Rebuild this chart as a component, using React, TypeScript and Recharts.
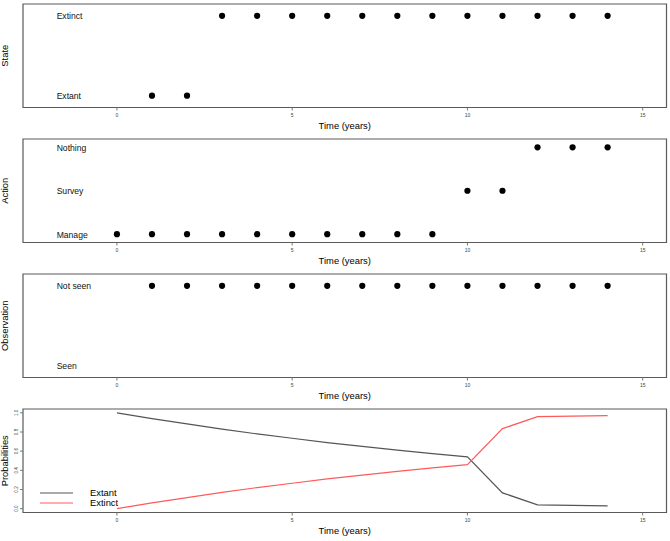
import React from "react";
import {
  ComposedChart,
  Scatter,
  Line,
  XAxis,
  YAxis,
  ReferenceArea,
} from "recharts";

// time axis (years)
const X_MIN = -2.68;
const X_MAX = 15.68;
const xTicks = [0, 5, 10, 15];

// State panel
const stateTimes = [1, 2, 3, 4, 5, 6, 7, 8, 9, 10, 11, 12, 13, 14];
const stateValues = [1, 1, 2, 2, 2, 2, 2, 2, 2, 2, 2, 2, 2, 2];
const stateLabels = ["Extant", "Extinct"];

// Action panel
const actionTimes = [0, 1, 2, 3, 4, 5, 6, 7, 8, 9, 10, 11, 12, 13, 14];
const actionValues = [1, 1, 1, 1, 1, 1, 1, 1, 1, 1, 2, 2, 3, 3, 3];
const actionLabels = ["Manage", "Survey", "Nothing"];

// Observation panel
const obsTimes = [1, 2, 3, 4, 5, 6, 7, 8, 9, 10, 11, 12, 13, 14];
const obsValues = [2, 2, 2, 2, 2, 2, 2, 2, 2, 2, 2, 2, 2, 2];
const obsLabels = ["Seen", "Not seen"];

// Probabilities panel
const probTimes = [0, 1, 2, 3, 4, 5, 6, 7, 8, 9, 10, 11, 12, 13, 14];
const extantProb = [1.0, 0.94, 0.885, 0.83, 0.78, 0.735, 0.69, 0.65, 0.61, 0.575, 0.54, 0.165, 0.04, 0.035, 0.03];
const extinctProb = [0.0, 0.06, 0.115, 0.17, 0.22, 0.265, 0.31, 0.35, 0.39, 0.425, 0.46, 0.835, 0.96, 0.965, 0.97];
const probTicks = [0, 0.2, 0.4, 0.6, 0.8, 1.0];
const probSeries = [
  { key: "extant", name: "Extant", color: "#555" },
  { key: "extinct", name: "Extinct", color: "#ff5a5a" },
];

const LABEL_X = -1.72;
const W = 670;
const H = 135;
const FONT = '"Liberation Sans", Arial, sans-serif';
const BOX = "#5a5a5a";

const dotShape = (p: any) => <circle cx={p.cx} cy={p.cy} r={3.1} fill="#000" />;

const labelShape = (p: any) => (
  <text x={p.cx} y={p.cy} dy="0.4em" fontSize={8.6} fill="#111" textAnchor="start">
    {p.payload?.name ?? p.name}
  </text>
);

const xAxisProps = {
  dataKey: "x",
  type: "number" as const,
  domain: [X_MIN, X_MAX],
  ticks: xTicks,
  interval: 0 as const,
  allowDataOverflow: true,
  height: 27.5,
  axisLine: false,
  tickLine: { stroke: "#777" },
  tickSize: 3,
  tickMargin: 3,
  tick: { fontSize: 5, fill: "#444" },
  label: {
    value: "Time (years)",
    position: "insideBottom" as const,
    offset: 6,
    fontSize: 9.4,
    fill: "#000",
  },
};

const yTitle = (t: string) => ({
  value: t,
  angle: -90,
  position: "insideLeft" as const,
  offset: 4.5,
  fontSize: 9.4,
  fill: "#000",
  style: { textAnchor: "middle" },
});

function CategoryPanel({
  times,
  values,
  labels,
  title,
  yDomain,
}: {
  times: number[];
  values: number[];
  labels: string[];
  title: string;
  yDomain: [number, number];
}) {
  const pts = times.map((t, i) => ({ x: t, y: values[i] }));
  const lbls = labels.map((name, i) => ({ x: LABEL_X, y: i + 1, name }));
  return (
    <ComposedChart width={W} height={H} margin={{ top: 4, right: 3.5, bottom: 0, left: 0 }}>
      <XAxis {...xAxisProps} />
      <YAxis
        dataKey="y"
        type="number"
        domain={yDomain}
        allowDataOverflow
        width={23}
        tick={false}
        axisLine={false}
        tickLine={false}
        label={yTitle(title)}
      />
      <ReferenceArea x1={X_MIN} x2={X_MAX} y1={yDomain[0]} y2={yDomain[1]} fill="none" stroke={BOX} strokeWidth={1.2} />
      <Scatter data={lbls} shape={labelShape} isAnimationActive={false} />
      <Scatter data={pts} shape={dotShape} isAnimationActive={false} />
    </ComposedChart>
  );
}

function ProbPanel() {
  const data = probTimes.map((t, i) => ({ x: t, extant: extantProb[i], extinct: extinctProb[i] }));
  const yDomain: [number, number] = [-0.04, 1.04];
  return (
    <div style={{ position: "relative", width: W, height: H }}>
      <ComposedChart width={W} height={H} data={data} margin={{ top: 4, right: 3.5, bottom: 0, left: 0 }}>
        <XAxis {...xAxisProps} />
        <YAxis
          type="number"
          domain={yDomain}
          ticks={probTicks}
          interval={0}
          allowDataOverflow
          width={23}
          axisLine={false}
          tickLine={{ stroke: "#777" }}
          tickSize={3}
          tickMargin={4}
          tick={(p: any) => (
            <text
              x={p.x}
              y={p.y}
              dy="0.35em"
              fontSize={4.6}
              fill="#444"
              textAnchor="middle"
              transform={`rotate(-90 ${p.x} ${p.y})`}
            >
              {Number(p.payload.value).toFixed(1)}
            </text>
          )}
          label={yTitle("Probabilities")}
        />
        <ReferenceArea x1={X_MIN} x2={X_MAX} y1={yDomain[0]} y2={yDomain[1]} fill="none" stroke={BOX} strokeWidth={1.2} />
        {probSeries.map((s) => (
          <Line
            key={s.key}
            dataKey={s.key}
            name={s.name}
            stroke={s.color}
            strokeWidth={1.2}
            dot={false}
            isAnimationActive={false}
          />
        ))}
      </ComposedChart>
      {/* legend, drawn in the lower-left corner of the plot */}
      <div style={{ position: "absolute", left: 40, top: 82.7, fontSize: 9.4, color: "#000" }}>
        {probSeries.map((s) => (
          <div key={s.key} style={{ display: "flex", alignItems: "center", height: 10 }}>
            <svg width={33} height={10} style={{ display: "block" }}>
              <line x1={0} x2={33} y1={5} y2={5} stroke={s.color} strokeWidth={1.2} />
            </svg>
            <span style={{ marginLeft: 17, lineHeight: "10px" }}>{s.name}</span>
          </div>
        ))}
      </div>
    </div>
  );
}

export default function App() {
  return (
    <div
      style={{
        position: "absolute",
        left: 0,
        top: 0,
        width: W,
        height: 541,
        background: "#fff",
        fontFamily: FONT,
      }}
    >
      <div style={{ position: "absolute", left: 0, top: 0 }}>
        <CategoryPanel times={stateTimes} values={stateValues} labels={stateLabels} title="State" yDomain={[0.852, 2.148]} />
      </div>
      <div style={{ position: "absolute", left: 0, top: 135 }}>
        <CategoryPanel times={actionTimes} values={actionValues} labels={actionLabels} title="Action" yDomain={[0.808, 3.192]} />
      </div>
      <div style={{ position: "absolute", left: 0, top: 270 }}>
        <CategoryPanel times={obsTimes} values={obsValues} labels={obsLabels} title="Observation" yDomain={[0.852, 2.148]} />
      </div>
      <div style={{ position: "absolute", left: 0, top: 405 }}>
        <ProbPanel />
      </div>
    </div>
  );
}
